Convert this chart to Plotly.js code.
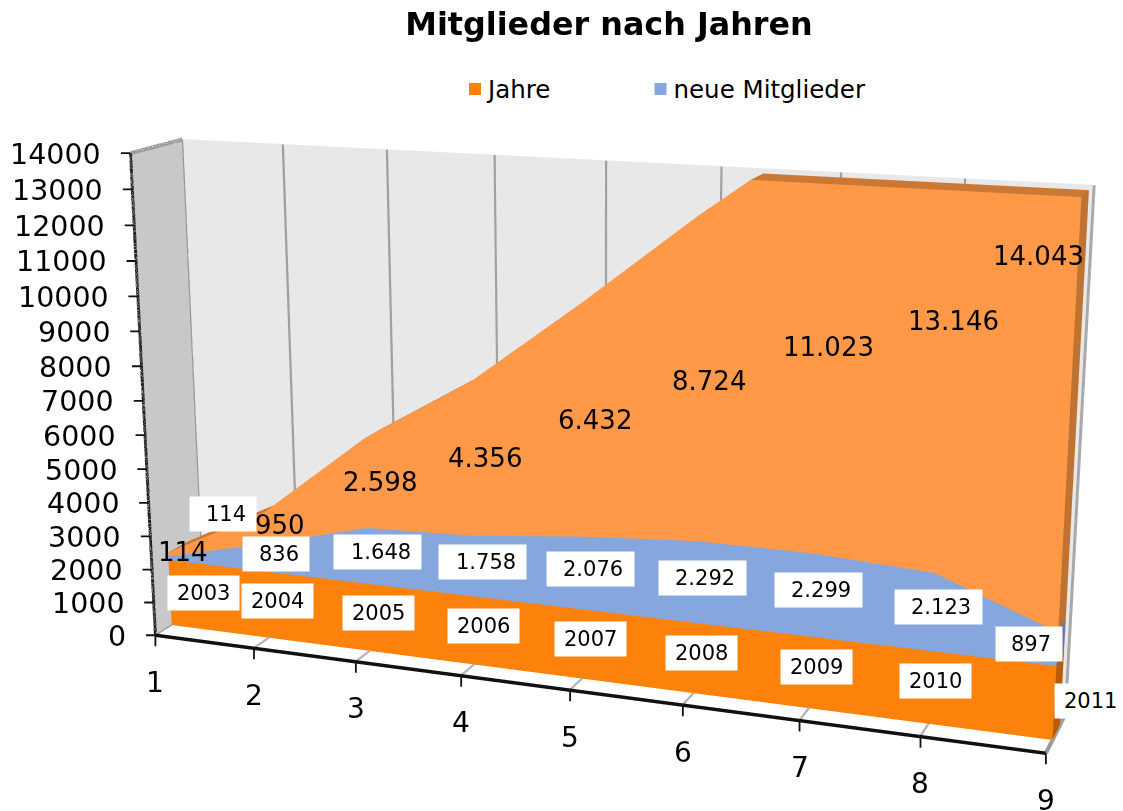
<!DOCTYPE html>
<html><head><meta charset="utf-8">
<script src="https://cdn.plot.ly/plotly-3.0.1.min.js"></script>
<style>html,body{margin:0;padding:0;background:#fff;overflow:hidden}
#frame{position:relative;width:1123px;height:811px;overflow:hidden}
#chart{position:absolute;left:-161px;top:-543px;width:1400px;height:2018px}</style></head>
<body><div id="frame"><div id="chart"></div></div>
<script>
const categories=[1,2,3,4,5,6,7,8,9];
const jahre=[2003,2004,2005,2006,2007,2008,2009,2010,2011];
const neueMitglieder=[114,836,1648,1758,2076,2292,2299,2123,897];
const gesamt=[114,950,2598,4356,6432,8724,11023,13146,14043];
const gesamtLabels=['114','950','2.598','4.356','6.432','8.724','11.023','13.146','14.043'];
const neueLabels=['114','836','1.648','1.758','2.076','2.292','2.299','2.123','897'];
const zMax=14000, zTicks=[0,1000,2000,3000,4000,5000,6000,7000,8000,9000,10000,11000,12000,13000,14000];

// window placement of the oversized plot: plotly's lens is fixed, the plot is enlarged to get the long lens of the original
const W=1400,H=2018,LEFT=-161,TOP=-543;
const cam={eye:[0.855,-2.314,0.644],yaw:-0.375,pitch:-0.271,roll:-0.007,ay:0.112,az:0.545};
const focal=H/(2*Math.tan(Math.PI/8)),cx=LEFT+W/2,cy=TOP+H/2;
const px=x=>(x-LEFT)/W, py=y=>1-(y-TOP)/H;
const f=[Math.cos(cam.pitch)*Math.sin(cam.yaw),Math.cos(cam.pitch)*Math.cos(cam.yaw),Math.sin(cam.pitch)];
const r0=[f[1]/Math.hypot(f[0],f[1]),-f[0]/Math.hypot(f[0],f[1]),0];
const u0=[r0[1]*f[2]-r0[2]*f[1],r0[2]*f[0]-r0[0]*f[2],r0[0]*f[1]-r0[1]*f[0]];
const cr=Math.cos(cam.roll),sr=Math.sin(cam.roll);
const R=r0.map((v,i)=>v*cr+u0[i]*sr),U=u0.map((v,i)=>v*cr-r0[i]*sr);
const dot=(a,b)=>a[0]*b[0]+a[1]*b[1]+a[2]*b[2];

const xa=categories[0],xb=categories[categories.length-1];
function screen(x,y,z){const P=[(x-xa)/(xb-xa)-.5-cam.eye[0],(y-.5)*cam.ay-cam.eye[1],(z/zMax-.5)*cam.az-cam.eye[2]];
 const d=dot(P,f);return [cx+focal*dot(P,R)/d,cy-focal*dot(P,U)/d];}

// ---- geometry
const totals=categories.map((c,i)=>[jahre[i],jahre[i]+neueMitglieder[i],jahre[i]+neueMitglieder[i]+gesamt[i]]);
let xs=categories.slice();
for(let i=0;i<categories.length-1;i++){const a=totals[i][2],c=totals[i+1][2];if(a<zMax&&c>zMax)xs.push(categories[i]+(zMax-a)/(c-a));}
xs.sort((p,q)=>p-q);
function at(layer,x){if(layer<0)return 0;const i=Math.min(Math.floor(x)-1,categories.length-2),t=x-categories[i];
 return Math.min(zMax,totals[i][layer]+(totals[i+1][layer]-totals[i][layer])*t);}
const y0=.33,y1=.72;
function slab(layer,front,side,top){const X=[],Y=[],Z=[],I=[],J=[],K=[],C=[];
 xs.forEach(x=>{const lo=at(layer-1,x),hi=at(layer,x);X.push(x,x,x,x);Y.push(y0,y0,y1,y1);Z.push(lo,hi,lo,hi);});
 const tri=(a,b,c,col)=>{I.push(a);J.push(b);K.push(c);C.push(col)};
 const quad=(a,b,c,d,col)=>{tri(a,b,c,col);tri(a,c,d,col)};
 for(let k=0;k<xs.length-1;k++){const s=4*k,e=s+4;quad(s,e,e+1,s+1,front);quad(s+1,e+1,e+3,s+3,top);}
 const n=4*(xs.length-1);quad(n,n+2,n+3,n+1,side);quad(0,2,3,1,side);
 return {type:'mesh3d',x:X,y:Y,z:Z,i:I,j:J,k:K,facecolor:C,flatshading:true,showlegend:false,hoverinfo:'skip',
  lighting:{ambient:1,diffuse:0,specular:0,roughness:1,fresnel:0},showscale:false};}
const line=(x,y,z,color,width)=>({type:'scatter3d',mode:'lines',x,y,z,line:{color,width},showlegend:false,hoverinfo:'skip'});
const gx=[],gy=[],gz=[],fx=[],fy=[],fz=[];
categories.forEach(c=>{gx.push(c,c,null);gy.push(1,1,null);gz.push(0,zMax,null);fx.push(c,c,null);fy.push(0,1,null);fz.push(0,0,null);});
const traces=[slab(0,'#FD820C','#B85C08','#B85C08'),slab(1,'#86A7DE','#627AA5','#627AA5'),slab(2,'#FF9948','#BE7332','#CB7834'),
 line(gx,gy,gz,'#A0A0A0',6),line(fx,fy,fz,'#B4B4B4',6),
 line([xa,xa],[0,1],[zMax,zMax],'#969696',8),line([xa,xa],[1,1],[0,zMax],'#969696',8),line([xb,xb],[1,1],[0,zMax],'#A8A8A8',6),
 line([xa,xa],[0,1],[0,0],'#969696',6),line([xb,xb],[0,1],[0,0],'#969696',8),
 line([xa,xa],[0,0],[0,zMax],'#222',6),line([xa,xb],[0,0],[0,0],'#111',7),
 {type:'scatter3d',mode:'markers',x:[xa],y:[.5],z:[-5000],name:'Jahre',legend:'legend',marker:{symbol:'square',size:14,color:'#FD820C'}},
 {type:'scatter3d',mode:'markers',x:[xa],y:[.5],z:[-5000],name:'neue Mitglieder',legend:'legend2',marker:{symbol:'square',size:14,color:'#86A7DE'}}];

const FONT='"DejaVu Sans",Verdana,sans-serif';
const ann=[];
const tick={text:' ',showarrow:true,arrowhead:0,arrowwidth:1.8,arrowcolor:'#111',standoff:0,startstandoff:0,borderpad:0,font:{size:1}};
zTicks.forEach(v=>{ann.push({x:xa,y:0,z:v,text:String(v),showarrow:false,xanchor:'right',xshift:-27,yshift:-1,font:{family:FONT,size:28.5,color:'#000'}});
 ann.push({...tick,x:xa,y:0,z:v,ax:-10,ay:0});});
categories.forEach(c=>{ann.push({x:c,y:0,z:0,text:String(c),showarrow:false,yshift:-47,font:{family:FONT,size:28,color:'#000'}});
 ann.push({...tick,x:c,y:0,z:0,ax:0,ay:12});});
// label centres in the window, as placed in the original
const gesamtPos=[[183,552],[280,525],[380,482],[485,458],[595,420],[709,381],[829,347],[954,321],[1039,256]];
const neueTextPos=[[226,514],[279,554],[381,552],[486,562],[593.5,569],[705,578],[821.5,590],[941.5,607],[1031,644]];
const neueBoxPos=[[223,514],[276,554],[377.5,552],[482.5,562],[590.5,569],[702.5,578],[818.5,590],[938.5,607],[1029,644]];
const jahrePos=[[203.5,593],[277.5,601],[378.5,613],[483.5,626],[590.5,639],[701.5,653],[816.5,667],[935.5,681],[1091,700.5]];
function place(i,layer,pos){const c=categories[i];const z=(at(layer-1,c)+at(layer,c))/2;const s=screen(c,y0,z);
 return {x:c,y:y0,z,xshift:pos[0]-s[0],yshift:s[1]-pos[1],showarrow:false};}
const box=(i,layer,pos,w)=>({...place(i,layer,pos),text:' ',bgcolor:'#fff',width:w,height:34,borderpad:0,font:{size:1}});
const txt=(i,layer,pos,text,size)=>({...place(i,layer,pos),text,font:{family:FONT,size,color:'#000'}});
categories.forEach((c,i)=>{
 ann.push(box(i,1,neueBoxPos[i],neueLabels[i].length>3?87:66));
 ann.push(box(i,0,jahrePos[i],71));
});
categories.forEach((c,i)=>{
 ann.push(txt(i,2,gesamtPos[i],gesamtLabels[i],26));
 ann.push(txt(i,1,neueTextPos[i],neueLabels[i],21));
 ann.push(txt(i,0,jahrePos[i],String(jahre[i]),21));
});
const ax={showbackground:true,showgrid:false,zeroline:false,showline:false,showticklabels:false,showspikes:false,ticks:'',title:{text:''}};
const legendBase={orientation:'h',xanchor:'left',y:py(89),yanchor:'middle',font:{family:FONT,size:24.5,color:'#000'},itemsizing:'constant'};
const layout={width:W,height:H,margin:{l:0,r:0,t:0,b:0},paper_bgcolor:'#fff',showlegend:true,
 title:{text:'Mitglieder nach Jahren',x:px(609),xanchor:'center',y:py(24),yanchor:'middle',font:{family:FONT,size:31.8,color:'#000',weight:'bold'}},
 legend:{...legendBase,x:px(448)},legend2:{...legendBase,x:px(633.5)},
 scene:{domain:{x:[0,1],y:[0,1]},aspectmode:'manual',aspectratio:{x:1.0006,y:cam.ay,z:cam.az*1.0007},
  camera:{eye:{x:cam.eye[0],y:cam.eye[1],z:cam.eye[2]},center:{x:cam.eye[0]+f[0]*3,y:cam.eye[1]+f[1]*3,z:cam.eye[2]+f[2]*3},up:{x:U[0],y:U[1],z:U[2]},projection:{type:'perspective'}},
  xaxis:{...ax,range:[xa,xb+.005],backgroundcolor:'#C8C8C8'},
  yaxis:{...ax,range:[0,1],backgroundcolor:'#E8E8E8'},
  zaxis:{...ax,range:[0,zMax+10],backgroundcolor:'#FFFFFF'},
  annotations:ann}};
Plotly.newPlot('chart',traces,layout,{displayModeBar:false}).then(()=>{
 document.querySelectorAll('#chart .legendpoints').forEach(n=>n.setAttribute('transform','translate(7,0)'));
});
</script></body></html>
